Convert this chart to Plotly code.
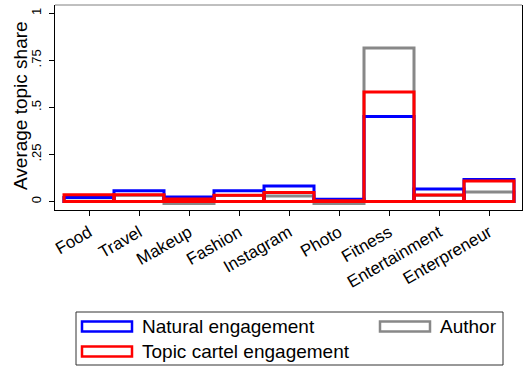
import plotly.graph_objects as go

# Topic categories and average topic shares per engagement type
categories = ["Food", "Travel", "Makeup", "Fashion", "Instagram", "Photo",
              "Fitness", "Entertainment", "Enterpreneur"]
natural = [0.021, 0.057, 0.024, 0.057, 0.083, 0.012, 0.452, 0.066, 0.117]
cartel = [0.036, 0.036, 0.014, 0.034, 0.048, 0.004, 0.582, 0.035, 0.109]
author = [0.020, 0.034, -0.010, 0.032, 0.029, -0.010, 0.816, 0.033, 0.050]

series_names = ["Natural engagement", "Topic cartel engagement", "Author"]
ytick_vals = [0, 0.25, 0.5, 0.75, 1]
ytick_text = ["0", ".25", ".5", ".75", "1"]

BLUE = "#0000ff"
RED = "#ff0000"
GRAY = "#888888"
FONT = "Liberation Sans, Arial, Helvetica, sans-serif"

W, H = 524, 369
L, R, T, B = 55, 2, 5, 159
PW, PH = W - L - R, H - T - B


def px_x(x):
    return (x - L) / PW


def px_y(y):
    return (H - B - y) / PH


fig = go.Figure()

# hollow outlined bars, drawn author -> natural -> cartel so red sits on top
for vals, color, name in [(author, GRAY, series_names[2]),
                          (natural, BLUE, series_names[0]),
                          (cartel, RED, series_names[1])]:
    fig.add_trace(go.Bar(
        x=categories, y=vals, name=name, width=1.0,
        marker=dict(color="rgba(0,0,0,0)", line=dict(color=color, width=3)),
        showlegend=False, hoverinfo="x+y+name",
    ))

fig.update_layout(
    width=W, height=H,
    margin=dict(l=L, r=R, t=T, b=B, pad=0),
    barmode="overlay",
    plot_bgcolor="white", paper_bgcolor="white",
    font=dict(family=FONT, color="black"),
    xaxis=dict(
        type="category", range=[-0.68, 8.66],
        showline=True, linecolor="black", linewidth=1, mirror=False,
        ticks="outside", ticklen=5, tickcolor="black", tickwidth=1,
        tickangle=-30, tickfont=dict(size=17, family=FONT),
        showgrid=False, zeroline=False,
    ),
    yaxis=dict(
        range=[-0.045, 1.044],
        tickvals=ytick_vals, ticktext=ytick_text,
        showline=True, linecolor="black", linewidth=1, mirror=True,
        ticks="outside", ticklen=5, tickcolor="black", tickwidth=1,
        tickangle=-90, tickfont=dict(size=13, family=FONT),
        ticklabelstandoff=3,
        showgrid=False, zeroline=False,
    ),
)

shapes = []
annotations = []

# top edge of the plot region
shapes.append(dict(type="line", xref="paper", yref="paper", x0=0, x1=1, y0=1, y1=1,
                   line=dict(color="#808080", width=1)))

# y-axis title
annotations.append(dict(
    text="Average topic share", xref="paper", yref="paper",
    x=px_x(20), y=px_y(106), xanchor="center", yanchor="middle",
    textangle=-90, showarrow=False, font=dict(size=19, family=FONT),
))

# legend box
shapes.append(dict(type="rect", xref="paper", yref="paper",
                   x0=px_x(76), x1=px_x(503), y0=px_y(365), y1=px_y(312),
                   line=dict(color="#333333", width=1), fillcolor="white"))

legend_items = [
    (series_names[0], BLUE, 82, 326.5),
    (series_names[1], RED, 82, 351.5),
    (series_names[2], GRAY, 380, 326.5),
]
for name, color, sx, cy in legend_items:
    shapes.append(dict(type="rect", xref="paper", yref="paper",
                       x0=px_x(sx), x1=px_x(sx + 50),
                       y0=px_y(cy + 5), y1=px_y(cy - 5),
                       line=dict(color=color, width=2.5), fillcolor="white"))
    annotations.append(dict(
        text=name, xref="paper", yref="paper",
        x=px_x(sx + 58), y=px_y(cy), xanchor="left", yanchor="middle",
        showarrow=False, font=dict(size=19, family=FONT),
    ))

fig.update_layout(shapes=shapes, annotations=annotations)

fig.write_html("out.html")
